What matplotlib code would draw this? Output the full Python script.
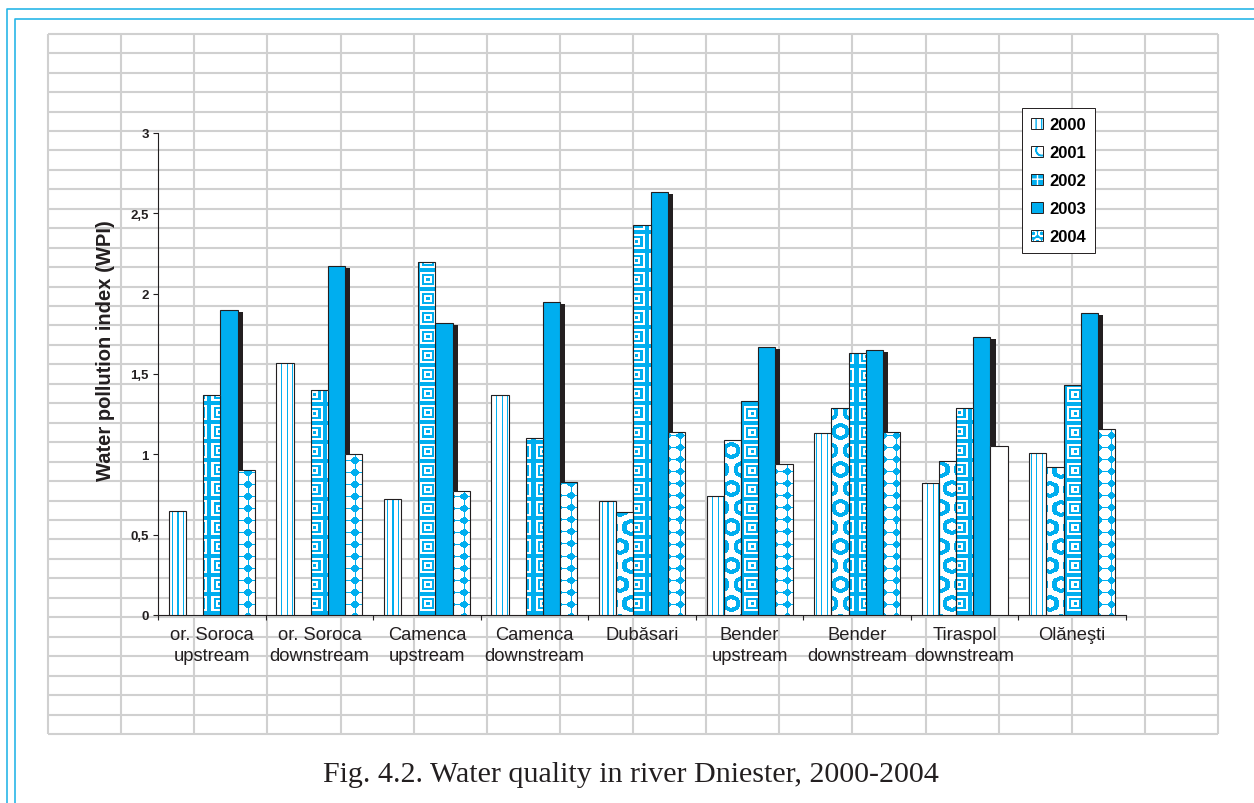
"""Water quality in river Dniester, 2000-2004 (WPI per site, textured bars)."""
import matplotlib
matplotlib.use("Agg")
import matplotlib.pyplot as plt
import numpy as np
from matplotlib.patches import Patch
from matplotlib.legend_handler import HandlerTuple
from matplotlib.ticker import FuncFormatter

plt.rcParams["font.family"] = ["Liberation Sans", "DejaVu Sans"]

sites = [
	"or. Soroca\nupstream", "or. Soroca\ndownstream", "Camenca\nupstream",
	"Camenca\ndownstream", "Dubăsari", "Bender\nupstream", "Bender\ndownstream",
	"Tiraspol\ndownstream", "Olăneşti",
]
years = ["2000", "2001", "2002", "2003", "2004"]
wpi_2000 = [0.65, 1.57, 0.72, 1.37, 0.71, 0.74, 1.13, 0.82, 1.01]
wpi_2001 = [0.00, 0.00, 0.00, 0.00, 0.64, 1.09, 1.29, 0.96, 0.92]
wpi_2002 = [1.37, 1.40, 2.20, 1.10, 2.43, 1.33, 1.63, 1.29, 1.43]
wpi_2003 = [1.90, 2.17, 1.82, 1.95, 2.63, 1.67, 1.65, 1.73, 1.88]
wpi_2004 = [0.90, 1.00, 0.77, 0.83, 1.14, 0.94, 1.14, 1.05, 1.16]
series = [wpi_2000, wpi_2001, wpi_2002, wpi_2003, wpi_2004]
textures = ["stripes", "rings", "squares", None, "stars"]
plain_bars = {(4, 7)}  # Tiraspol 2004 is printed without its fill pattern

CYAN = "#00AEEF"
INK = "#231F20"
cyan_rgb = np.array(matplotlib.colors.to_rgb(CYAN))


def tex_mask(kind, X, Y):
	"""True where the pattern is cyan; X, Y are global pixel coords."""
	if kind == "stripes":
		return (X % 5) == 1
	if kind == "rings":
		row = Y // 19
		dx = (X + (row % 2) * 10) % 20 - 9.5
		dy = Y % 19 - 9.0
		r = np.hypot(dx, dy)
		return (r > 4.2) & (r < 8.3)
	if kind == "squares":
		d = np.maximum(np.abs(X % 19 - 9), np.abs(Y % 19 - 9))
		return (d // 2) % 2 == 0
	if kind == "stars":
		dx = np.minimum(X % 12, 12 - X % 12)
		dy = np.minimum(Y % 12, 12 - Y % 12)
		return np.hypot(dx, dy) > 5.6
	return np.zeros_like(X, dtype=bool)


fig = plt.figure(figsize=(12.54, 8.04), dpi=100)

# spreadsheet-like background and page frame
bg = fig.add_axes([0, 0, 1, 1], zorder=0)
bg.set_xlim(0, 1254)
bg.set_ylim(804, 0)
bg.axis("off")
for x in np.linspace(48, 1218, 17):
	bg.plot([x, x], [34.7, 735], color="#D0D0D0", lw=1.5, solid_capstyle="butt")
for y in np.linspace(34.7, 735, 37):
	bg.plot([48, 1218], [y, y], color="#D0D0D0", lw=1.5, solid_capstyle="butt")
bg.plot([7, 7, 1254], [804, 10, 10], color="#29B6E8", lw=1.2)
bg.plot([15, 15, 1254], [804, 20, 20], color="#29B6E8", lw=1.2)
bg.text(631, 775, "Fig. 4.2. Water quality in river Dniester, 2000-2004",
	family="Liberation Serif", fontsize=21.6, color=INK, ha="center", va="center")

ax = fig.add_axes([158 / 1254, 1 - 616 / 804, 968 / 1254, 482 / 804], zorder=1)
ax.patch.set_alpha(0)
ax.set_xlim(-0.5, len(sites) - 0.5)
ax.set_ylim(0, 3)

idx = np.arange(len(sites))
w = 0.16
for k, vals in enumerate(series):
	xs = idx + (k - 2) * w
	if textures[k] is None:
		# solid series with offset black shadow
		ax.bar(xs + 0.047, np.array(vals) - 0.0125, w, color=INK, lw=0, zorder=2.9)
		ax.bar(xs, vals, w, facecolor=CYAN, edgecolor=INK, lw=0.8, zorder=3)
		continue
	bars = ax.bar(xs, vals, w, facecolor="white", edgecolor="none", lw=0, zorder=3)
	for j, (bar, v) in enumerate(zip(bars, vals)):
		if v <= 0 or (k, j) in plain_bars:
			continue
		x0, x1 = bar.get_x(), bar.get_x() + bar.get_width()
		p0 = ax.transData.transform((x0, 0))
		p1 = ax.transData.transform((x1, v))
		nx = max(1, int(round(p1[0] - p0[0])))
		ny = max(1, int(round(p1[1] - p0[1])))
		X, Y = np.meshgrid(np.floor(p0[0]) + np.arange(nx), np.floor(p0[1]) + np.arange(ny))
		m = tex_mask(textures[k], X.astype(int), Y.astype(int))
		img = np.where(m[..., None], cyan_rgb, np.ones(3))
		im = ax.imshow(img, extent=(x0, x1, 0, v), origin="lower", aspect="auto",
			interpolation="nearest", zorder=3.1)
		im.set_clip_path(bar)
	ax.bar(xs, vals, w, fill=False, edgecolor=[INK if v > 0 else "none" for v in vals],
		lw=0.8, zorder=3.2)

ax.set_xlim(-0.5, len(sites) - 0.5)
ax.set_ylim(0, 3)

for s in ("top", "right"):
	ax.spines[s].set_visible(False)
for s in ("left", "bottom"):
	ax.spines[s].set_color(INK)
	ax.spines[s].set_linewidth(0.8)

ax.set_yticks(np.arange(0, 3.01, 0.5))
ax.yaxis.set_major_formatter(FuncFormatter(lambda v, _: f"{v:g}".replace(".", ",")))
ax.tick_params(axis="y", direction="out", length=3.6, width=0.8, color=INK,
	labelsize=9.5, labelcolor=INK, pad=3)
for t in ax.get_yticklabels():
	t.set_fontweight("bold")
ax.set_xticks(idx)
ax.set_xticklabels(sites, fontsize=13.2, color=INK, linespacing=1.3)
ax.set_xticks(np.arange(-0.5, len(sites)), minor=True)
ax.tick_params(axis="x", which="major", length=0, pad=8)
ax.tick_params(axis="x", which="minor", direction="out", length=3.6, width=0.8, color=INK)
ax.set_ylabel("Water pollution index (WPI)", fontsize=14.5, fontweight="bold", color=INK)
ax.yaxis.set_label_coords(-0.044, 0.55)

# legend with hatch stand-ins for the print patterns
frame = dict(facecolor="none", edgecolor=INK, lw=0.7)
handles = [
	(Patch(facecolor="white", edgecolor=CYAN, hatch="|||", lw=0), Patch(**frame)),
	(Patch(facecolor="white", edgecolor=CYAN, hatch="O", lw=0), Patch(**frame)),
	(Patch(facecolor=CYAN, edgecolor="white", hatch="++", lw=0), Patch(**frame)),
	(Patch(facecolor=CYAN, lw=0), Patch(**frame)),
	(Patch(facecolor=CYAN, edgecolor="white", hatch="OO", lw=0), Patch(**frame)),
]
leg = fig.legend(handles, years, handler_map={tuple: HandlerTuple(ndivide=1)},
	loc="upper left", bbox_to_anchor=(1022 / 1254, 1 - 109 / 804),
	prop=dict(weight="bold", size=12), handlelength=0.7, handleheight=0.7,
	handletextpad=0.4, labelspacing=0.78, borderpad=0.55, fancybox=False,
	framealpha=1, edgecolor=INK, borderaxespad=0)
leg.get_frame().set_linewidth(0.7)
leg.set_zorder(5)

fig.savefig("out.png", dpi=100)
